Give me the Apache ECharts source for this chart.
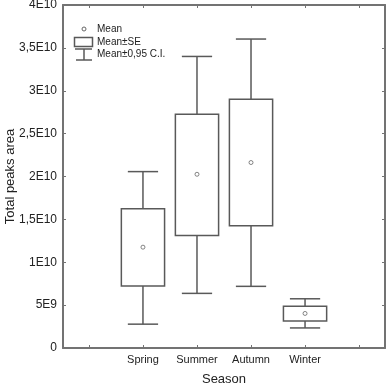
<!DOCTYPE html>
<html><head><meta charset="utf-8">
<script src="https://cdn.jsdelivr.net/npm/echarts@6/dist/echarts.min.js"></script>
<style>html,body{margin:0;padding:0;background:#fff}#c{width:387px;height:385px}</style>
</head><body><div id="c"></div>
<script>
const categories = ['Spring', 'Summer', 'Autumn', 'Winter'];
const catPositions = [2, 3, 4, 5];
const ciLow   = [2.78e9, 6.37e9, 7.19e9, 2.34e9];
const seLow   = [7.22e9, 1.311e10, 1.425e10, 3.16e9];
const means   = [1.176e10, 2.026e10, 2.163e10, 4.03e9];
const seHigh  = [1.624e10, 2.725e10, 2.90e10, 4.88e9];
const ciHigh  = [2.057e10, 3.40e10, 3.603e10, 5.74e9];
const yTickLabels = ['0', '5E9', '1E10', '1,5E10', '2E10', '2,5E10', '3E10', '3,5E10', '4E10'];

const FONT = 'Liberation Sans, Arial, sans-serif';
const LINE = '#595959';
const AXIS = '#737373';

const seData = catPositions.map((p, i) => [p, seLow[i], seHigh[i]]);
const ciData = catPositions.map((p, i) => [p, ciLow[i], seLow[i], seHigh[i], ciHigh[i]]);
const meanData = catPositions.map((p, i) => [p, means[i]]);

const chart = echarts.init(document.getElementById('c'), null, {renderer: 'canvas'});
const xCommon = {
  type: 'value', min: 0.52, max: 6.48,
  splitLine: {show: false},
  axisLine: {show: true, onZero: false, lineStyle: {color: AXIS, width: 2}},
  axisTick: {show: true, inside: true, length: 3, customValues: [1, 2, 3, 4, 5, 6], lineStyle: {color: AXIS, width: 1}}
};
const yCommon = {
  type: 'value', min: 0, max: 4e10, interval: 5e9,
  splitLine: {show: false},
  axisLine: {show: true, lineStyle: {color: AXIS, width: 2}},
  axisTick: {show: true, inside: true, length: 3, lineStyle: {color: AXIS, width: 1}}
};
chart.setOption({
  animation: false,
  grid: {left: 63, right: 2, top: 5, bottom: 37, containLabel: false, outerBoundsMode: 'none'},
  xAxis: [
    Object.assign({}, xCommon, {
      position: 'bottom',
      name: 'Season', nameLocation: 'middle', nameGap: 25, nameMoveOverlap: false,
      nameTextStyle: {fontFamily: FONT, fontSize: 13, color: '#222'},
      axisLabel: {
        show: true, margin: 6, customValues: catPositions,
        fontFamily: FONT, fontSize: 11, color: '#222',
        formatter: v => categories[catPositions.indexOf(Math.round(v))] || ''
      }
    }),
    Object.assign({}, xCommon, {position: 'top', axisLabel: {show: false}})
  ],
  yAxis: [
    Object.assign({}, yCommon, {
      position: 'left',
      name: 'Total peaks area', nameLocation: 'middle', nameGap: 46, nameRotate: 90, nameMoveOverlap: false,
      nameTextStyle: {fontFamily: FONT, fontSize: 13, color: '#222'},
      axisLabel: {
        show: true, margin: 6, fontFamily: FONT, fontSize: 12, color: '#222',
        formatter: (v) => yTickLabels[Math.round(v / 5e9)]
      }
    }),
    Object.assign({}, yCommon, {position: 'right', axisLabel: {show: false}})
  ],
  series: [
    {
      name: 'Mean±0,95 C.I.', type: 'custom', xAxisIndex: 0, yAxisIndex: 0,
      data: ciData,
      renderItem: function (params, api) {
        const x = api.value(0);
        const pLow = api.coord([x, api.value(1)]);
        const pSeL = api.coord([x, api.value(2)]);
        const pSeH = api.coord([x, api.value(3)]);
        const pHigh = api.coord([x, api.value(4)]);
        const half = api.size([0.56, 0])[0] / 2;
        const st = {stroke: LINE, lineWidth: 1.5, fill: null};
        return {type: 'group', children: [
          {type: 'line', shape: {x1: pLow[0], y1: pLow[1], x2: pSeL[0], y2: pSeL[1]}, style: st},
          {type: 'line', shape: {x1: pSeH[0], y1: pSeH[1], x2: pHigh[0], y2: pHigh[1]}, style: st},
          {type: 'line', shape: {x1: pLow[0] - half, y1: pLow[1], x2: pLow[0] + half, y2: pLow[1]}, style: st},
          {type: 'line', shape: {x1: pHigh[0] - half, y1: pHigh[1], x2: pHigh[0] + half, y2: pHigh[1]}, style: st}
        ]};
      }
    },
    {
      name: 'Mean±SE', type: 'custom', xAxisIndex: 0, yAxisIndex: 0,
      data: seData,
      renderItem: function (params, api) {
        const x = api.value(0);
        const pL = api.coord([x, api.value(1)]);
        const pH = api.coord([x, api.value(2)]);
        const half = api.size([0.8, 0])[0] / 2;
        return {type: 'rect',
          shape: {x: pL[0] - half, y: pH[1], width: half * 2, height: pL[1] - pH[1]},
          style: {stroke: LINE, lineWidth: 1.5, fill: 'rgba(0,0,0,0)'}};
      }
    },
    {
      name: 'Mean', type: 'scatter', xAxisIndex: 0, yAxisIndex: 0,
      data: meanData, symbol: 'circle', symbolSize: 4,
      itemStyle: {color: '#fff', borderColor: '#666', borderWidth: 1}
    }
  ],
  graphic: [
    {type: 'circle', shape: {cx: 84, cy: 29, r: 2}, style: {fill: '#fff', stroke: '#666', lineWidth: 1}},
    {type: 'text', x: 97, y: 29, style: {text: 'Mean', font: '10px ' + FONT, fill: '#222', verticalAlign: 'middle'}},
    {type: 'rect', shape: {x: 74.5, y: 37.5, width: 18, height: 9}, style: {fill: '#fff', stroke: LINE, lineWidth: 1.5}},
    {type: 'text', x: 97, y: 42, style: {text: 'Mean±SE', font: '10px ' + FONT, fill: '#222', verticalAlign: 'middle'}},
    {type: 'line', shape: {x1: 75, y1: 49, x2: 92, y2: 49}, style: {stroke: LINE, lineWidth: 1.5}},
    {type: 'line', shape: {x1: 84, y1: 49, x2: 84, y2: 60}, style: {stroke: LINE, lineWidth: 1.5}},
    {type: 'line', shape: {x1: 76, y1: 60, x2: 92, y2: 60}, style: {stroke: LINE, lineWidth: 1.5}},
    {type: 'text', x: 97, y: 54, style: {text: 'Mean±0,95 C.I.', font: '10px ' + FONT, fill: '#222', verticalAlign: 'middle'}}
  ]
});
</script></body></html>
